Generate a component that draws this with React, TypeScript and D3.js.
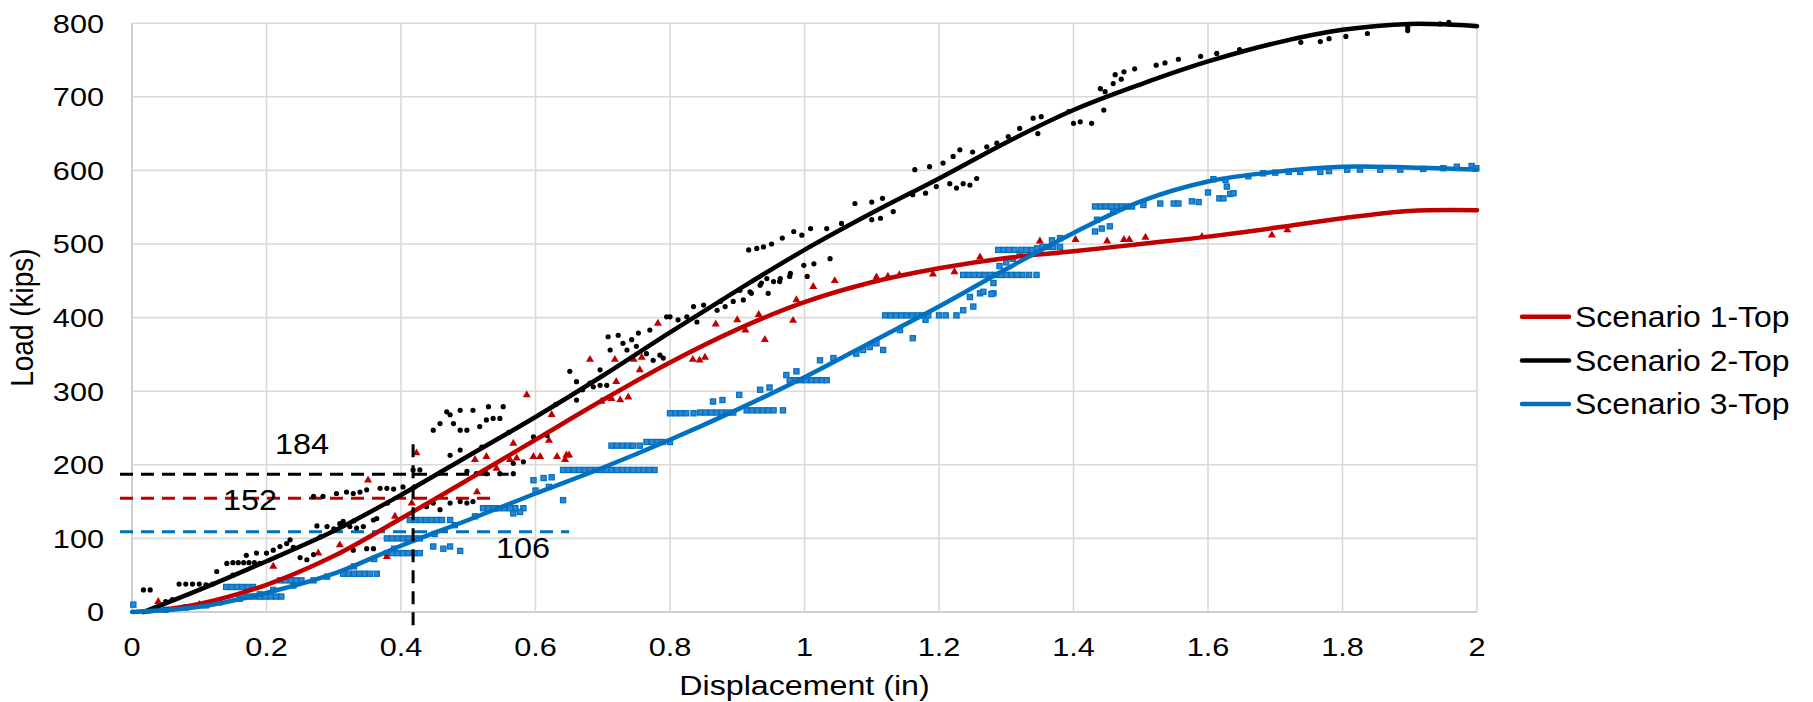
import React from 'react';
import * as d3 from 'd3';

// ---- data ----
const xTicks = [0, 0.2, 0.4, 0.6, 0.8, 1, 1.2, 1.4, 1.6, 1.8, 2];
const xTickLabels = ['0', '0.2', '0.4', '0.6', '0.8', '1', '1.2', '1.4', '1.6', '1.8', '2'];
const yTicks = [0, 100, 200, 300, 400, 500, 600, 700, 800];

const seriesNames = ['Scenario 1-Top', 'Scenario 2-Top', 'Scenario 3-Top'];

// fitted curves [displacement, load]
const s1Curve = [[0.017, 0], [0.1, 11], [0.2, 37], [0.3, 76], [0.4, 127], [0.5, 180], [0.6, 234], [0.7, 288], [0.8, 339], [0.9, 384], [1.0, 421], [1.1, 448], [1.2, 467], [1.3, 481], [1.4, 490], [1.5, 500], [1.6, 510], [1.7, 522], [1.8, 535], [1.9, 545], [2.0, 546]];
const s2Curve = [[0.017, 0], [0.1, 30], [0.2, 69], [0.3, 110], [0.4, 159], [0.5, 212], [0.6, 265], [0.7, 321], [0.8, 380], [0.9, 437], [1.0, 492], [1.1, 542], [1.2, 589], [1.3, 638], [1.4, 682], [1.5, 717], [1.6, 748], [1.7, 773], [1.8, 791], [1.9, 799], [2.0, 796]];
const s3Curve = [[0, 0], [0.1, 7], [0.2, 26], [0.3, 52], [0.4, 90], [0.5, 125], [0.6, 161], [0.7, 196], [0.8, 234], [0.9, 275], [1.0, 319], [1.1, 367], [1.2, 415], [1.3, 466], [1.4, 515], [1.5, 558], [1.6, 585], [1.7, 598], [1.8, 605], [1.9, 604], [2.0, 601]];

// measured points
const s1Points = [[0.039, 14], [0.1, 10], [0.21, 62], [0.277, 80], [0.309, 91], [0.351, 179], [0.379, 75], [0.391, 130], [0.416, 148], [0.423, 216], [0.513, 163], [0.51, 207], [0.527, 211], [0.542, 195], [0.562, 207], [0.567, 229], [0.572, 209], [0.587, 295], [0.597, 211], [0.607, 211], [0.62, 233], [0.624, 268], [0.632, 211], [0.646, 213], [0.644, 207], [0.65, 213], [0.681, 343], [0.698, 286], [0.713, 290], [0.718, 343], [0.72, 313], [0.726, 288], [0.738, 292], [0.746, 343], [0.755, 329], [0.758, 346], [0.782, 392], [0.834, 343], [0.844, 342], [0.852, 346], [0.868, 391], [0.9, 397], [0.912, 383], [0.932, 404], [0.941, 370], [0.983, 396], [0.988, 424], [1.013, 442], [1.045, 450], [1.107, 455], [1.124, 456], [1.141, 458], [1.191, 459], [1.223, 462], [1.261, 482], [1.35, 504], [1.403, 506], [1.45, 504], [1.475, 506], [1.483, 506], [1.507, 509], [1.591, 510], [1.695, 512], [1.718, 519]];

const s2Points = [[0.017, 30], [0.027, 30], [0.05, 14], [0.07, 38], [0.08, 38], [0.09, 38], [0.1, 38], [0.11, 37], [0.126, 55], [0.141, 66], [0.15, 67], [0.158, 67], [0.166, 67], [0.174, 67], [0.182, 67], [0.17, 77], [0.185, 80], [0.2, 80], [0.21, 84], [0.22, 89], [0.23, 93], [0.235, 98], [0.25, 74], [0.26, 71], [0.27, 78], [0.275, 117], [0.29, 116], [0.3, 113], [0.309, 120], [0.314, 123], [0.324, 116], [0.334, 114], [0.344, 116], [0.329, 84], [0.349, 86], [0.359, 86], [0.359, 125], [0.364, 127], [0.27, 157], [0.284, 157], [0.304, 161], [0.319, 163], [0.329, 161], [0.339, 163], [0.349, 166], [0.369, 168], [0.379, 168], [0.389, 167], [0.403, 170], [0.418, 193], [0.428, 193], [0.448, 247], [0.458, 256], [0.468, 272], [0.473, 268], [0.478, 256], [0.488, 274], [0.488, 247], [0.498, 247], [0.507, 274], [0.517, 252], [0.527, 261], [0.537, 263], [0.547, 263], [0.552, 279], [0.53, 279], [0.473, 213], [0.488, 220], [0.438, 143], [0.448, 148], [0.458, 139], [0.473, 148], [0.488, 150], [0.498, 148], [0.507, 150], [0.498, 191], [0.512, 188], [0.527, 188], [0.547, 188], [0.567, 188], [0.567, 202], [0.582, 204], [0.597, 238], [0.617, 240], [0.661, 288], [0.681, 311], [0.696, 308],
  [0.06, 17], [0.12, 38], [0.15, 50], [0.19, 66], [0.24, 88], [0.28, 102], [0.33, 124], [0.38, 148], [0.42, 170], [0.46, 190], [0.52, 224], [0.56, 244], [0.63, 282], [0.67, 302],
  [0.651, 327], [0.661, 313], [0.686, 306], [0.696, 329], [0.706, 308], [0.708, 374], [0.711, 356], [0.723, 376], [0.73, 365], [0.736, 356], [0.743, 370], [0.75, 361], [0.753, 379], [0.765, 351], [0.77, 383], [0.775, 342], [0.785, 349], [0.79, 345], [0.795, 401], [0.8, 401], [0.812, 397], [0.825, 401], [0.835, 415], [0.84, 394], [0.85, 417], [0.87, 410], [0.875, 422], [0.882, 415], [0.894, 422], [0.904, 437], [0.909, 424], [0.919, 435], [0.921, 433], [0.934, 444], [0.936, 447], [0.944, 453], [0.946, 433], [0.954, 449], [0.963, 449], [0.964, 453], [0.978, 456], [0.979, 460], [0.917, 492], [0.929, 494], [0.939, 496], [0.951, 500], [0.967, 508], [0.984, 517], [0.996, 512], [1.009, 521], [0.999, 471], [1.004, 456], [1.014, 473], [1.033, 521], [1.038, 480], [1.055, 528], [1.075, 555], [1.1, 557], [1.1, 533], [1.113, 535], [1.116, 562], [1.132, 544], [1.161, 567], [1.164, 601], [1.18, 569], [1.186, 605], [1.196, 578], [1.206, 610], [1.216, 582], [1.221, 619], [1.226, 576], [1.236, 582], [1.246, 580], [1.256, 589], [1.231, 628], [1.25, 625],
  [1.271, 632], [1.286, 637], [1.303, 646], [1.32, 657], [1.34, 671], [1.352, 673], [1.347, 650], [1.393, 680], [1.4, 664], [1.41, 666], [1.427, 664], [1.44, 711], [1.447, 707], [1.445, 682], [1.459, 718], [1.462, 730], [1.471, 724], [1.475, 734], [1.491, 738], [1.523, 743], [1.536, 746], [1.556, 751], [1.589, 755], [1.613, 759], [1.647, 764], [1.738, 774], [1.767, 775], [1.78, 779], [1.805, 782], [1.837, 786], [1.897, 794], [1.897, 790], [1.945, 799], [1.958, 801]];

const s3Points = [[0.002, 10], [0.05, 3], [0.08, 6], [0.11, 9], [0.13, 13], [0.16, 18], [0.19, 24], [0.21, 30], [0.24, 36], [0.27, 43], [0.29, 48], [0.33, 62], [0.36, 72], [0.39, 86],
  [0.14, 34], [0.148, 34], [0.156, 34], [0.164, 34], [0.172, 34], [0.18, 34],
  [0.166, 21], [0.174, 21], [0.182, 21], [0.19, 21], [0.198, 21], [0.206, 21], [0.214, 21], [0.222, 21],
  [0.22, 43], [0.228, 43], [0.236, 43], [0.244, 43], [0.252, 43],
  [0.314, 52], [0.322, 52], [0.33, 52], [0.338, 52], [0.346, 52], [0.354, 52], [0.364, 52],
  [0.379, 100], [0.387, 100], [0.395, 100], [0.403, 100], [0.411, 100], [0.42, 100], [0.428, 100],
  [0.379, 80], [0.387, 80], [0.395, 80], [0.403, 80], [0.411, 80], [0.42, 80], [0.428, 80],
  [0.413, 125], [0.421, 125], [0.429, 125], [0.437, 125], [0.445, 125], [0.453, 125], [0.461, 125], [0.473, 125],
  [0.448, 89], [0.463, 86], [0.473, 89], [0.488, 83], [0.45, 106], [0.48, 118], [0.51, 130], [0.54, 141],
  [0.522, 141], [0.53, 141], [0.538, 141], [0.546, 141], [0.554, 141], [0.562, 141], [0.57, 141], [0.582, 141],
  [0.567, 134], [0.577, 136], [0.597, 179], [0.612, 182], [0.624, 183], [0.641, 152], [0.6, 165], [0.62, 170],
  [0.641, 193], [0.649, 193], [0.657, 193], [0.665, 193], [0.673, 193], [0.681, 193], [0.689, 193], [0.697, 193], [0.705, 193], [0.713, 193], [0.721, 193], [0.729, 193], [0.737, 193], [0.745, 193], [0.753, 193], [0.761, 193], [0.769, 193], [0.777, 193],
  [0.713, 226], [0.721, 226], [0.729, 226], [0.737, 226], [0.745, 226], [0.755, 226],
  [0.765, 231], [0.773, 231], [0.781, 231], [0.789, 231], [0.8, 231],
  [0.8, 270], [0.808, 270], [0.816, 270], [0.824, 270], [0.835, 270],
  [0.845, 271], [0.853, 271], [0.861, 271], [0.869, 271], [0.877, 271], [0.885, 271], [0.894, 271],
  [0.914, 274], [0.922, 274], [0.93, 274], [0.938, 274], [0.946, 274], [0.954, 274], [0.968, 274],
  [0.864, 286], [0.878, 288], [0.903, 295], [0.934, 302], [0.948, 305], [0.973, 322], [0.988, 327],
  [0.978, 315], [0.986, 315], [0.994, 315], [1.002, 315], [1.01, 315], [1.018, 315], [1.026, 315], [1.033, 315],
  [1.023, 342], [1.043, 345], [1.077, 351], [1.087, 356], [1.097, 360], [1.107, 365], [1.117, 356], [1.142, 383], [1.161, 372], [1.18, 397],
  [1.12, 403], [1.128, 403], [1.136, 403], [1.144, 403], [1.152, 403], [1.16, 403], [1.168, 403], [1.176, 403], [1.184, 403], [1.2, 403], [1.21, 403], [1.226, 403],
  [1.236, 410], [1.246, 428], [1.251, 415], [1.261, 433], [1.281, 433], [1.266, 435], [1.278, 432], [1.281, 447],
  [1.236, 458], [1.244, 458], [1.252, 458], [1.26, 458], [1.268, 458], [1.276, 458], [1.284, 458], [1.292, 458], [1.3, 458], [1.308, 458], [1.316, 458], [1.324, 458], [1.334, 458], [1.345, 458],
  [1.29, 470], [1.3, 475], [1.31, 480], [1.32, 487],
  [1.288, 492], [1.296, 492], [1.304, 492], [1.312, 492], [1.322, 492], [1.33, 492], [1.338, 492], [1.346, 494], [1.354, 496], [1.362, 496], [1.37, 496], [1.38, 496],
  [1.368, 505], [1.38, 508],
  [1.432, 551], [1.44, 551], [1.448, 551], [1.456, 551], [1.464, 551], [1.472, 551], [1.48, 551], [1.487, 551],
  [1.435, 533], [1.442, 521], [1.454, 524], [1.459, 544], [1.432, 517],
  [1.504, 553], [1.529, 555], [1.549, 555], [1.556, 555], [1.576, 558], [1.586, 557], [1.6, 570], [1.608, 588], [1.617, 562], [1.623, 562], [1.628, 578], [1.633, 568], [1.638, 569], [1.626, 587],
  [1.66, 592], [1.682, 596], [1.7, 597], [1.72, 598], [1.737, 598], [1.767, 598], [1.78, 599], [1.807, 601], [1.826, 601], [1.856, 601], [1.886, 601], [1.92, 602], [1.95, 603], [1.97, 605], [1.992, 606], [1.999, 603]];

// reference lines
const refLabels = ['184', '152', '106'];
const refLevels = [187, 154.5, 109];
const refEnds = [0.56, 0.54, 0.65];
const refDisplacement = 0.418;
const refVerticalRange = [-18, 229];

const colors = ['#C00000', '#000000', '#0070C0'];
const FONT = '"Liberation Sans", Arial, sans-serif';

const W = 1813;
const H = 702;

const x = d3.scaleLinear().domain([0, 2]).range([132, 1477]);
const y = d3.scaleLinear().domain([0, 800]).range([612, 23.2]);

const line = d3.line<number[]>()
  .x(d => x(d[0]))
  .y(d => y(d[1]))
  .curve(d3.curveCatmullRom.alpha(0.5));

const tri = d3.symbol().type(d3.symbolTriangle).size(28)();

const Txt = ({ x: tx, y: ty, size, sx = 1.15, anchor = 'start', rot = false, children }: any) => (
  <text
    transform={`translate(${tx},${ty}) scale(${sx},1)${rot ? ' rotate(-90)' : ''}`}
    fontSize={size}
    fontFamily={FONT}
    textAnchor={anchor}
    fill="#000"
  >
    {children}
  </text>
);

export default function App() {
  const curves = [s1Curve, s2Curve, s3Curve];
  const legendY = [316.7, 360.5, 404];

  return (
    <svg width={W} height={H} style={{ position: 'absolute', left: 0, top: 0, background: '#fff' }}>
      <rect width={W} height={H} fill="#fff" />

      {/* grid */}
      {yTicks.map(t => (
        <line key={'gy' + t} x1={x(0)} x2={x(2)} y1={y(t)} y2={y(t)} stroke="#D9D9D9" strokeWidth={1.6} />
      ))}
      {xTicks.map(t => (
        <line key={'gx' + t} x1={x(t)} x2={x(t)} y1={y(0)} y2={y(800)} stroke="#D9D9D9" strokeWidth={1.6} />
      ))}
      <line x1={x(0)} x2={x(0)} y1={y(0)} y2={y(800)} stroke="#CFCFCF" strokeWidth={2} />
      <line x1={x(0)} x2={x(2)} y1={y(0)} y2={y(0)} stroke="#CFCFCF" strokeWidth={2} />

      {/* tick labels */}
      {yTicks.map(t => (
        <Txt key={'yl' + t} x={104} y={y(t) + 9.3} size={26} sx={1.18} anchor="end">{t}</Txt>
      ))}
      {xTicks.map((t, i) => (
        <Txt key={'xl' + t} x={x(t)} y={656} size={26} sx={1.18} anchor="middle">{xTickLabels[i]}</Txt>
      ))}

      {/* axis titles */}
      <Txt x={(x(0) + x(2)) / 2} y={695} size={28} sx={1.15} anchor="middle">Displacement (in)</Txt>
      <Txt x={33} y={(y(0) + y(800)) / 2} size={28} sx={1.1} anchor="middle" rot>Load (kips)</Txt>

      {/* reference dashed lines */}
      {refLevels.map((v, i) => (
        <line key={'rl' + i} x1={120} x2={x(refEnds[i])} y1={y(v)} y2={y(v)}
          stroke={[colors[1], colors[0], colors[2]][i]} strokeWidth={3} strokeDasharray="13,8" />
      ))}

      {/* measured points */}
      <g>
        {s3Points.map((d, i) => (
          <rect key={'p3' + i} x={x(d[0]) - 2.6} y={y(d[1]) - 2.6} width={5.2} height={5.2}
            fill="#2E86D0" stroke={colors[2]} strokeWidth={1.2} />
        ))}
        {s1Points.map((d, i) => (
          <path key={'p1' + i} d={tri} transform={`translate(${x(d[0])},${y(d[1])})`} fill={colors[0]} />
        ))}
        {s2Points.map((d, i) => (
          <circle key={'p2' + i} cx={x(d[0])} cy={y(d[1])} r={2.6} fill={colors[1]} />
        ))}
      </g>

      {/* fitted curves */}
      {curves.map((c, i) => (
        <path key={'c' + i} d={line(c) || ''} fill="none" stroke={colors[i]} strokeWidth={4.5} strokeLinecap="round" />
      ))}

      {/* vertical reference */}
      <line x1={x(refDisplacement)} x2={x(refDisplacement)} y1={y(refVerticalRange[0])} y2={y(refVerticalRange[1])}
        stroke="#000" strokeWidth={3} strokeDasharray="13,8" />

      {/* annotation labels */}
      <Txt x={302} y={454} size={29} sx={1.12} anchor="middle">{refLabels[0]}</Txt>
      <Txt x={250} y={510} size={29} sx={1.12} anchor="middle">{refLabels[1]}</Txt>
      <Txt x={523} y={558} size={29} sx={1.12} anchor="middle">{refLabels[2]}</Txt>

      {/* legend */}
      {seriesNames.map((n, i) => (
        <g key={'lg' + i}>
          <line x1={1522} x2={1569} y1={legendY[i]} y2={legendY[i]} stroke={colors[i]} strokeWidth={4.5} strokeLinecap="round" />
          <Txt x={1575} y={legendY[i] + 10.4} size={29} sx={1.1}>{n}</Txt>
        </g>
      ))}
    </svg>
  );
}
